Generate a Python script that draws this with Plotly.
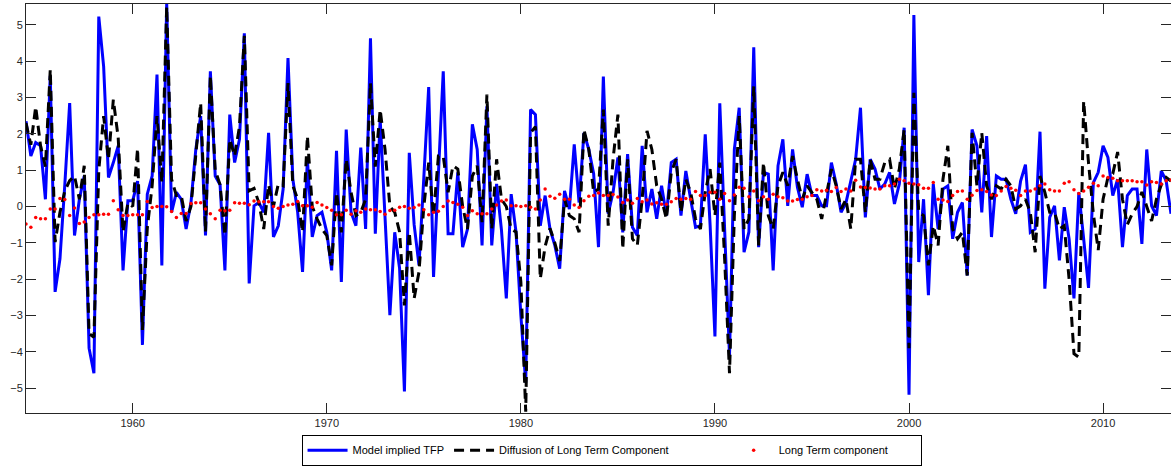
import plotly.graph_objects as go

# Quarterly series, 1954Q3 .. 2013Q3 (x = year + fraction)
start_year = 1954.5
model_tfp = [
    2.35, 1.39, 1.76, 1.67, 0.2, 3.6, -2.35, -1.44, 0.6, 2.85,
    -0.8, 0.2, 0.84, -3.9, -4.59, 5.23, 3.86, 0.8, 1.21, 1.67,
    -1.76, 0.16, 0.16, 0.7, -3.81, 0.34, 0.84, 3.63, -1.62, 5.59,
    -0.16, 0.39, 0.2, -0.62, 0.1, 1.57, 2.49, -0.8, 3.72, 0.84,
    0.6, -1.76, 2.53, 1.21, 1.85, 4.77, -2.12, 0.02, 0.11, -0.16,
    2.03, -0.84, -0.53, 0.48, 4.09, 0.75, -0.16, -1.8, 1.3, -0.84,
    -0.25, -0.16, -0.71, -1.76, 1.53, -2.08, 2.12, -0.16, -0.53, 1.62,
    -0.62, 4.63, -0.75, 2.4, -0.3, -2.99, -0.71, -1.7, -5.09, 1.48,
    -0.5, -1.62, 0.8, 3.29, -1.94, 1.0, 3.72, -0.75, -0.75, 0.94,
    -1.12, -0.62, 2.26, 1.57, -1.07, 2.76, -1.07, 0.62, -0.65, -2.53,
    0.34, -0.7, -3.0, -4.85, 2.67, 2.53, -0.53, 0.3, -0.62, -1.07,
    -1.71, 0.43, -0.07, 1.71, 0.11, 2.03, 1.57, 0.9, -1.12, 3.58,
    -0.2, 0.39, 1.35, -0.71, 1.44, -0.57, -0.8, 1.67, -0.16, 0.48,
    -0.34, 0.57, -0.25, 1.21, 1.3, -0.25, 0.98, 0.2, -0.57, -0.53,
    1.99, -0.5, -3.58, 2.84, -0.6, -4.1, 1.57, 2.72, -1.26, -0.7,
    4.38, -1.12, 0.94, 0.89, -1.76, 1.12, 1.85, 0.02, 1.57, 0.53,
    -0.02, 0.89, 0.3, 0.3, 0.02, 0.02, 1.21, 0.62, -0.16, 0.1,
    0.7, 1.3, 2.72, -0.3, 1.3, 1.03, 0.48, 0.62, 0.94, 0.07,
    0.62, 2.17, -5.18, 5.27, -1.53, 0.2, -2.44, 0.62, -0.62, 0.48,
    0.57, -0.89, -0.16, 0.11, -1.9, 2.12, 1.67, -0.16, 1.94, -0.84,
    0.84, 0.75, 0.75, 0.2, -0.2, 0.7, 1.15, -0.71, -0.62, 2.06,
    -2.26, -0.3, 0.02, -1.48, -0.02, -0.89, -2.53, 0.39, -0.89, -2.24,
    0.66, 0.94, 1.67, 1.35, 0.3, 0.75, -1.12, 0.3, 0.48, 0.48,
    -1.03, 1.57, 0.02, -0.25, 0.98, 0.71, -0.2,
]
diffusion_ltc = [
    2.3, 1.7, 2.75, 1.67, 1.1, 3.77, -0.98, -0.16, 0.43, 0.71,
    0.84, 0.2, 1.12, -3.5, -3.6, 1.0, 2.49, 1.3, 2.94, 1.9,
    -0.7, 0.1, 0.0, 1.6, -3.4, -0.6, 0.57, 2.49, 0.66, 5.5,
    0.75, 0.3, 0.3, -0.4, 0.0, 1.4, 2.85, -0.7, 3.6, 1.0,
    0.6, -0.8, 1.85, 1.39, 2.2, 4.7, 0.43, 0.5, 0.1, -0.62,
    0.6, 0.0, 0.62, 0.57, 3.4, 0.57, 0.2, -0.7, 1.94, 0.0,
    -0.34, -0.62, -0.8, -1.62, 0.39, -0.71, 1.3, 0.39, -0.25, -0.16,
    0.2, 3.4, 1.1, 2.67, 1.57, 0.0, -0.16, -0.7, -2.72, -0.7,
    -2.53, -1.8, 0.0, 1.21, -0.25, 1.39, 1.39, 0.39, 1.12, 1.03,
    0.0, -0.62, 0.84, 1.12, -0.43, 3.08, -0.62, 1.3, 0.2, 0.0,
    -0.62, -0.7, -2.08, -5.65, 2.03, 2.2, -1.99, -1.1, -0.6, -1.0,
    -1.5, 0.2, -0.25, -0.34, -0.71, 2.12, 1.57, 0.39, 0.48, 2.67,
    -0.53, 1.3, 2.53, -1.17, 1.3, -0.89, -1.07, 0.2, 2.08, 1.57,
    0.57, 0.2, -0.34, 0.94, 1.3, -0.16, 0.75, 0.39, -0.34, -0.62,
    0.39, 1.03, -0.25, 1.21, -1.44, -4.59, -0.25, 2.49, -0.62, -0.34,
    3.31, -1.07, 1.21, -0.25, -0.62, 0.57, 0.94, 0.57, 1.39, 0.75,
    0.2, 0.57, 0.39, 0.2, -0.34, 0.39, 1.03, 0.57, -0.07, 0.2,
    -0.62, 1.3, 1.3, -0.16, 1.3, 0.75, 0.75, 1.21, 1.3, 0.48,
    1.03, 2.12, -3.9, 3.13, -0.16, -0.25, -1.62, -0.53, -1.07, 0.75,
    1.67, -0.62, -0.89, -0.71, -1.9, 2.03, 0.57, 2.03, 0.57, 0.2,
    0.57, 0.48, 0.75, 0.57, -0.07, 0.02, 0.2, -0.16, -1.26, 0.84,
    0.39, -0.16, -0.16, -0.62, -0.53, -2.0, -4.05, -4.15, 2.9, 1.2,
    -0.2, -1.2, 0.2, 0.8, 0.9, 1.5, 0.2, -0.5, -0.2, 0.0,
    0.4, 0.0, -0.4, 0.2, 0.6, 0.8, 0.7,
]
long_term = [
    -0.48, -0.57, -0.3, -0.34, -0.34, -0.07, -0.07, 0.22, 0.19, -0.25,
    -0.04, -0.47, -0.43, -0.3, -0.23, -0.23, -0.21, -0.21, 0.16, -0.09,
    -0.25, -0.25, -0.23, -0.23, -0.23, 0.14, -0.03, 0.0, 0.0, -0.01,
    -0.14, -0.3, -0.19, -0.19, 0.08, 0.1, 0.1, -0.07, -0.2, -0.34,
    -0.1, -0.12, -0.1, 0.1, 0.09, 0.09, 0.05, 0.15, 0.13, 0.13,
    0.13, 0.0, -0.05, 0.0, 0.04, 0.06, 0.14, 0.02, 0.02, -0.02,
    0.11, 0.04, -0.03, -0.1, -0.23, -0.23, -0.1, -0.21, -0.12, -0.16,
    -0.07, -0.09, -0.09, -0.14, -0.21, -0.11, -0.1, -0.02, 0.0, -0.05,
    -0.03, 0.04, -0.09, -0.23, -0.16, -0.13, 0.0, 0.15, 0.11, 0.06,
    -0.02, -0.25, -0.12, -0.2, -0.2, -0.2, -0.07, 0.04, 0.15, 0.18,
    0.02, 0.02, 0.0, 0.02, -0.02, -0.07, 0.18, 0.48, 0.28, 0.23,
    0.34, 0.2, 0.2, 0.04, -0.03, 0.16, 0.28, 0.3, 0.37, 0.3,
    0.3, 0.33, 0.26, 0.11, 0.18, 0.09, 0.22, 0.13, 0.18, 0.07,
    0.1, 0.06, 0.06, 0.13, 0.22, 0.2, 0.22, 0.2, 0.41, 0.3,
    0.3, 0.39, 0.39, 0.2, 0.36, 0.16, 0.32, 0.53, 0.5, 0.27,
    0.43, 0.16, 0.27, 0.2, 0.34, 0.27, 0.24, 0.15, 0.15, 0.19,
    0.2, 0.27, 0.3, 0.46, 0.43, 0.45, 0.41, 0.52, 0.41, 0.48,
    0.43, 0.72, 0.54, 0.52, 0.51, 0.48, 0.48, 0.57, 0.57, 0.62,
    0.75, 0.71, 0.64, 0.62, 0.6, 0.5, 0.5, 0.66, 0.2, 0.18,
    0.14, 0.3, 0.41, 0.43, 0.2, 0.31, 0.44, 0.46, 0.41, 0.32,
    0.3, 0.43, 0.55, 0.5, 0.45, 0.3, 0.43, 0.43, 0.48, 0.57,
    0.62, 0.46, 0.43, 0.43, 0.64, 0.68, 0.46, 0.36, 0.43, 0.53,
    0.64, 0.57, 0.84, 0.8, 0.78, 0.71, 0.71, 0.71, 0.71, 0.68,
    0.68, 0.59, 0.68, 0.66, 0.62, 0.71, 0.73,
]
dates = [start_year + 0.25 * i for i in range(len(model_tfp))]

series_names = ["Model implied TFP", "Diffusion of Long Term Component", "Long Term component"]
x_ticks = [1960, 1970, 1980, 1990, 2000, 2010]
y_ticks = [-5, -4, -3, -2, -1, 0, 1, 2, 3, 4, 5]

FONT = "Liberation Sans, Arial, Helvetica, sans-serif"
AX = "#262626"
NB = "\u00a0"

fig = go.Figure()
fig.add_trace(go.Scatter(x=dates, y=model_tfp, mode="lines", name=series_names[0],
                         line=dict(color="#0000ff", width=3)))
fig.add_trace(go.Scatter(x=dates, y=diffusion_ltc, mode="lines",
                         name=series_names[1] + NB * 18,
                         line=dict(color="#000000", width=3, dash="10px,6px")))
fig.add_trace(go.Scatter(x=dates, y=long_term, mode="markers", name=series_names[2] + NB * 9,
                         marker=dict(color="#ff0000", size=3.5)))

axis_common = dict(showgrid=False, zeroline=False, showline=True, linecolor=AX, linewidth=1,
                   mirror="ticks", ticks="inside", ticklen=10, tickcolor=AX, tickwidth=1,
                   tickfont=dict(family=FONT, size=11, color=AX))
fig.update_xaxes(range=[1954.5, 2013.5], tickvals=x_ticks, **axis_common)
fig.update_yaxes(range=[-5.685, 5.575], tickvals=y_ticks, **axis_common)

fig.update_layout(
    width=1171, height=466,
    margin=dict(l=26, r=0, t=4, b=51),
    plot_bgcolor="white", paper_bgcolor="white",
    font=dict(family=FONT, size=11, color="#000000"),
    legend=dict(orientation="h", x=0.5114, xanchor="center", y=-0.053, yanchor="top",
                bordercolor="#000000", borderwidth=1, bgcolor="white",
                font=dict(family=FONT, size=11, color="#000000"),
                itemwidth=40, tracegroupgap=0),
)

fig.write_html("out.html", config={"displayModeBar": False},
               post_script="document.body.style.margin='0';document.body.style.overflow='hidden';")
